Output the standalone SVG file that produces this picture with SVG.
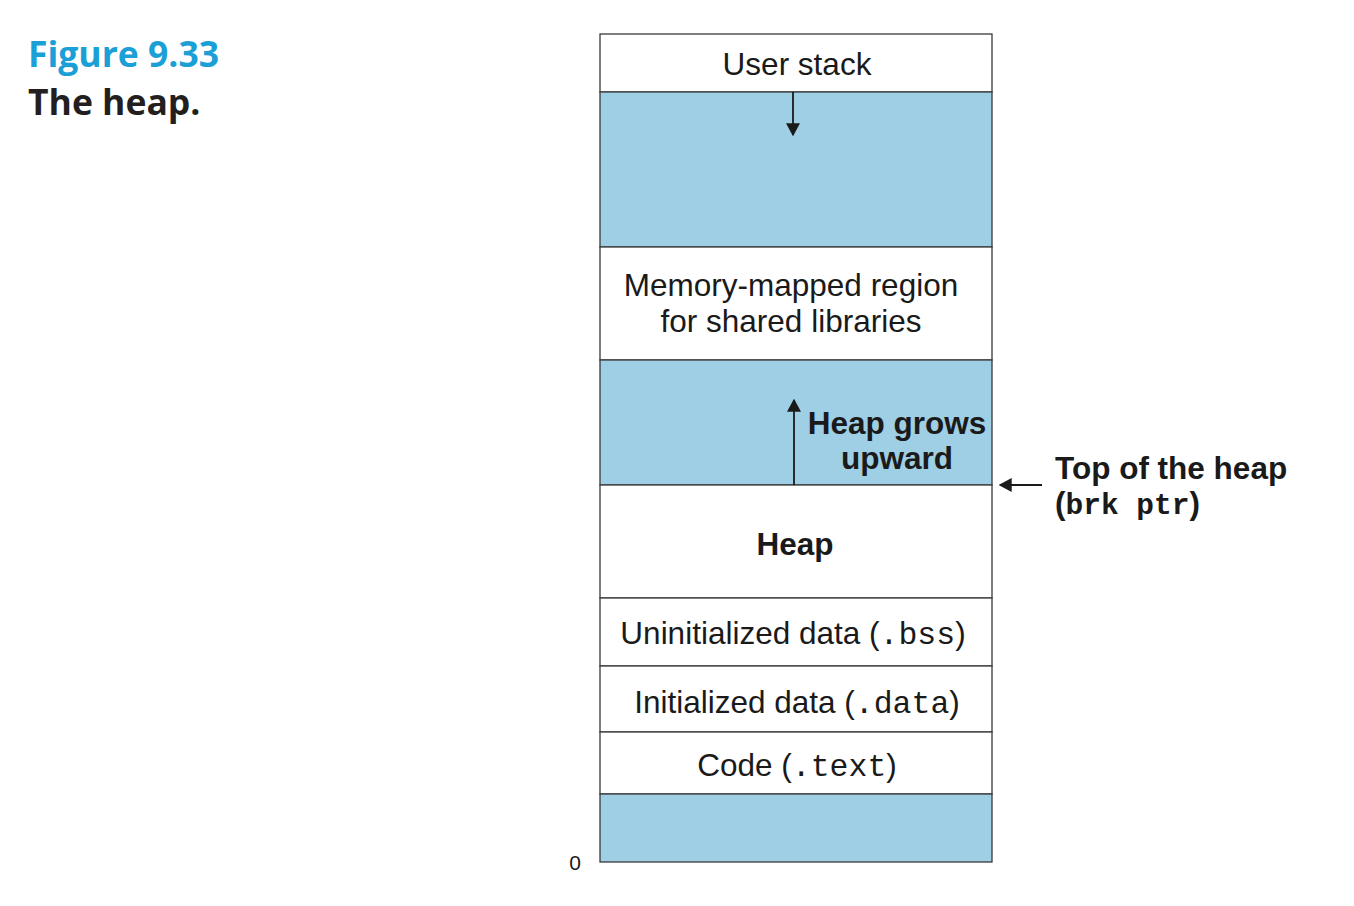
<svg xmlns="http://www.w3.org/2000/svg" width="1354" height="906" viewBox="0 0 1354 906">
<style>
.box{stroke:#3a3a3a;stroke-width:1.3}
.w{fill:#ffffff}
.b{fill:#9ecfe5}
.t{font-family:"Liberation Sans",Arial,sans-serif;font-size:31.5px;fill:#1a1a1a;text-anchor:middle}
.s{text-anchor:start}
.bd{font-weight:bold}
.m{font-family:"Liberation Mono","Courier New",monospace}
.ms{font-size:29.5px}
.cap{font-family:"Open Sans","Noto Sans",sans-serif;font-weight:bold;font-size:35.5px}
.ln{stroke:#1a1a1a;stroke-width:1.8;fill:none}
</style>
<defs>
<marker id="ah" viewBox="0 0 10 10" refX="9" refY="5" markerWidth="13" markerHeight="14" markerUnits="userSpaceOnUse" orient="auto" preserveAspectRatio="none">
<path d="M0,0 L10,5 L0,10 z" fill="#1a1a1a"/>
</marker>
</defs>
<rect width="1354" height="906" fill="#ffffff"/>
<g id="caption">
<text class="cap" x="28" y="67" fill="#1a9fd6">Figure 9.33</text>
<text class="cap" x="28" y="115" fill="#231f20">The heap.</text>
</g>
<g id="user-stack"><rect class="box w" x="600" y="34" width="392" height="58"/><text class="t" x="797" y="75">User stack</text></g>
<g id="gap-top"><rect class="box b" x="600" y="92" width="392" height="155"/></g>
<g id="mmap"><rect class="box w" x="600" y="247" width="392" height="113"/><text class="t" x="791" y="296">Memory-mapped region</text><text class="t" x="791" y="332">for shared libraries</text></g>
<g id="gap-heap"><rect class="box b" x="600" y="360" width="392" height="125"/><text class="t bd" x="897" y="434">Heap grows</text><text class="t bd" x="897" y="469">upward</text></g>
<g id="heap"><rect class="box w" x="600" y="485" width="392" height="113"/><text class="t bd" x="795" y="555">Heap</text></g>
<g id="bss"><rect class="box w" x="600" y="598" width="392" height="68"/><text class="t" x="793" y="644">Uninitialized data (<tspan class="m">.bss</tspan>)</text></g>
<g id="data"><rect class="box w" x="600" y="666" width="392" height="66"/><text class="t" x="797" y="713">Initialized data (<tspan class="m">.data</tspan>)</text></g>
<g id="text"><rect class="box w" x="600" y="732" width="392" height="62"/><text class="t" x="797" y="776">Code (<tspan class="m">.text</tspan>)</text></g>
<g id="gap-bottom"><rect class="box b" x="600" y="794" width="392" height="68"/></g>
<g id="zero"><text x="575" y="870" font-family="Liberation Sans,Arial,sans-serif" font-size="21" fill="#1a1a1a" text-anchor="middle">0</text></g>
<g id="brk-label"><text class="t bd s" x="1055" y="479">Top of the heap</text><text class="t bd s" x="1055" y="514">(<tspan class="m ms">brk ptr</tspan>)</text></g>
<g id="connectors">
<line class="ln" x1="793" y1="92" x2="793" y2="135" marker-end="url(#ah)"/>
<line class="ln" x1="794" y1="485" x2="794" y2="400" marker-end="url(#ah)"/>
<line class="ln" x1="1042" y1="485" x2="1000" y2="485" marker-end="url(#ah)"/>
</g>
</svg>
